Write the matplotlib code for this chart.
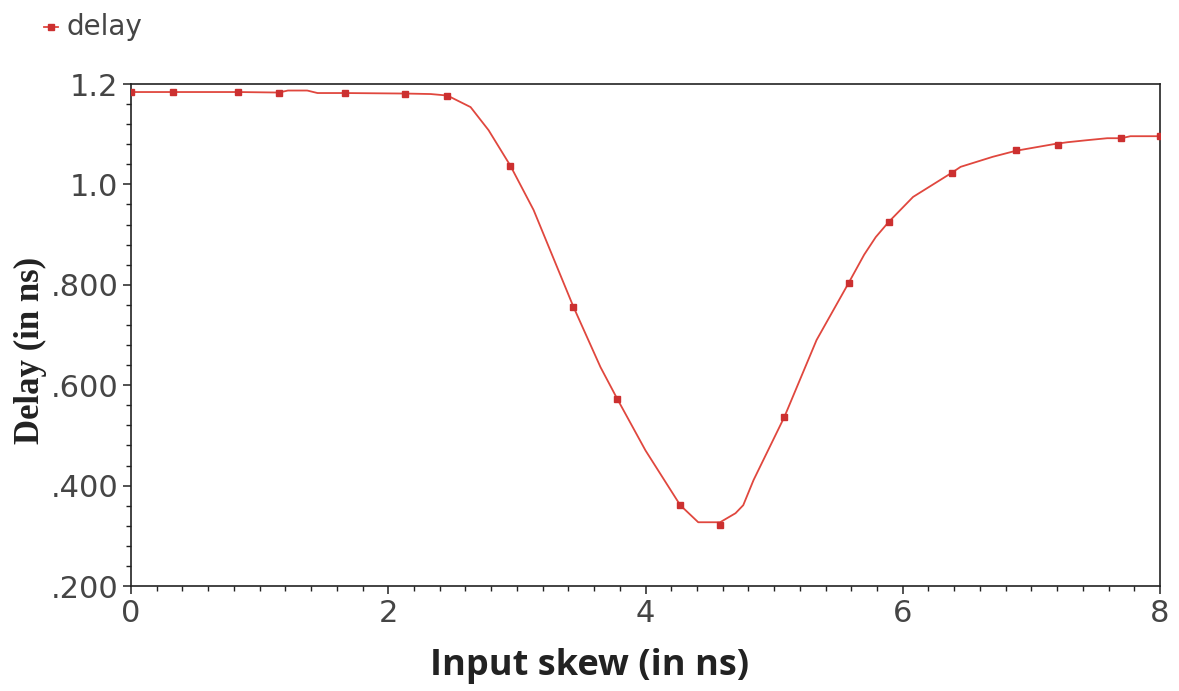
import matplotlib
matplotlib.use("Agg")
import matplotlib.pyplot as plt
from matplotlib.lines import Line2D
from matplotlib.ticker import MultipleLocator, FixedLocator, FixedFormatter

# Simulated waveform of delay vs. input skew (ns)
curve_x = [0.0, 0.33, 0.83, 1.15, 1.22, 1.37, 1.45, 1.66, 2.13, 2.33, 2.46, 2.64,
           2.78, 2.95, 3.13, 3.44, 3.65, 3.78, 4.0, 4.27, 4.41, 4.58, 4.70, 4.76,
           4.84, 5.08, 5.33, 5.58, 5.70, 5.79, 5.89, 6.08, 6.38, 6.45, 6.70, 6.88,
           7.17, 7.28, 7.43, 7.59, 7.70, 7.77, 8.0]
curve_y = [1.184, 1.184, 1.184, 1.183, 1.187, 1.187, 1.182, 1.182, 1.181, 1.180,
           1.177, 1.154, 1.108, 1.037, 0.949, 0.756, 0.636, 0.573, 0.470, 0.361,
           0.327, 0.327, 0.345, 0.361, 0.411, 0.537, 0.690, 0.804, 0.860, 0.895,
           0.925, 0.975, 1.023, 1.035, 1.055, 1.067, 1.080, 1.084, 1.088, 1.092,
           1.092, 1.096, 1.096]

# Sample points marked on the waveform
sample_x = [0.0, 0.33, 0.83, 1.15, 1.66, 2.13, 2.46, 2.95, 3.44, 3.78, 4.27, 4.58,
            5.08, 5.58, 5.89, 6.38, 6.88, 7.21, 7.70, 8.0]
sample_y = [1.184, 1.184, 1.184, 1.183, 1.183, 1.181, 1.177, 1.037, 0.756, 0.573,
            0.361, 0.322, 0.537, 0.804, 0.925, 1.023, 1.068, 1.078, 1.092, 1.096]

y_ticks = [0.2, 0.4, 0.6, 0.8, 1.0, 1.2]
y_tick_labels = [".200", ".400", ".600", ".800", "1.0", "1.2"]
x_ticks = [0, 2, 4, 6, 8]
x_tick_labels = ["0", "2", "4", "6", "8"]

line_color = "#e0473e"
marker_color = "#cc3030"
text_color = "#454545"

fig = plt.figure(figsize=(11.79, 6.91), dpi=100)
ax = fig.add_axes([131 / 1179, 1 - 586 / 691, (1160 - 131) / 1179, (586 - 84) / 691])

ax.plot(curve_x, curve_y, color=line_color, lw=1.3, zorder=3)
ax.plot(sample_x, sample_y, ls="none", marker="s", ms=4.0, color=marker_color,
        mec=marker_color, zorder=4)

ax.set_xlim(0, 8)
ax.set_ylim(0.2, 1.2)

ax.xaxis.set_major_locator(FixedLocator(x_ticks))
ax.xaxis.set_major_formatter(FixedFormatter(x_tick_labels))
ax.xaxis.set_minor_locator(MultipleLocator(0.2))
ax.yaxis.set_major_locator(FixedLocator(y_ticks))
ax.yaxis.set_major_formatter(FixedFormatter(y_tick_labels))
ax.yaxis.set_minor_locator(MultipleLocator(0.04))

for s in ax.spines.values():
    s.set_color("#222222")
    s.set_linewidth(1.2)

ax.tick_params(which="major", direction="out", length=6, width=1.1, color="#222222",
               labelsize=22, labelcolor=text_color, pad=3)
ax.tick_params(which="minor", direction="out", length=3.5, width=1.0, color="#222222")

for lbl in ax.get_xticklabels() + ax.get_yticklabels():
    lbl.set_family("DejaVu Sans")

ax.set_xlabel("Input skew (in ns)", fontsize=26, fontweight="bold",
              family="Open Sans", color="#222222", va="center")
ax.xaxis.set_label_coords(0.446, -0.16)
ax.set_ylabel("Delay (in ns)", fontsize=25, fontweight="bold",
              family="Liberation Serif", color="#222222")
ax.yaxis.set_label_coords(-0.082, 0.47)

# Legend entry in the upper-left corner
ly = 1 - 27 / 691
fig.add_artist(Line2D([44 / 1179, 58 / 1179], [ly, ly], transform=fig.transFigure,
                      color=line_color, lw=1.3))
fig.add_artist(Line2D([51 / 1179], [ly], transform=fig.transFigure, ls="none",
                      marker="s", ms=4.0, color=marker_color))
fig.text(66 / 1179, ly, "delay", color=text_color, fontsize=20,
         va="center", ha="left", family="DejaVu Sans")

fig.savefig("out.png", dpi=100, facecolor="white")
